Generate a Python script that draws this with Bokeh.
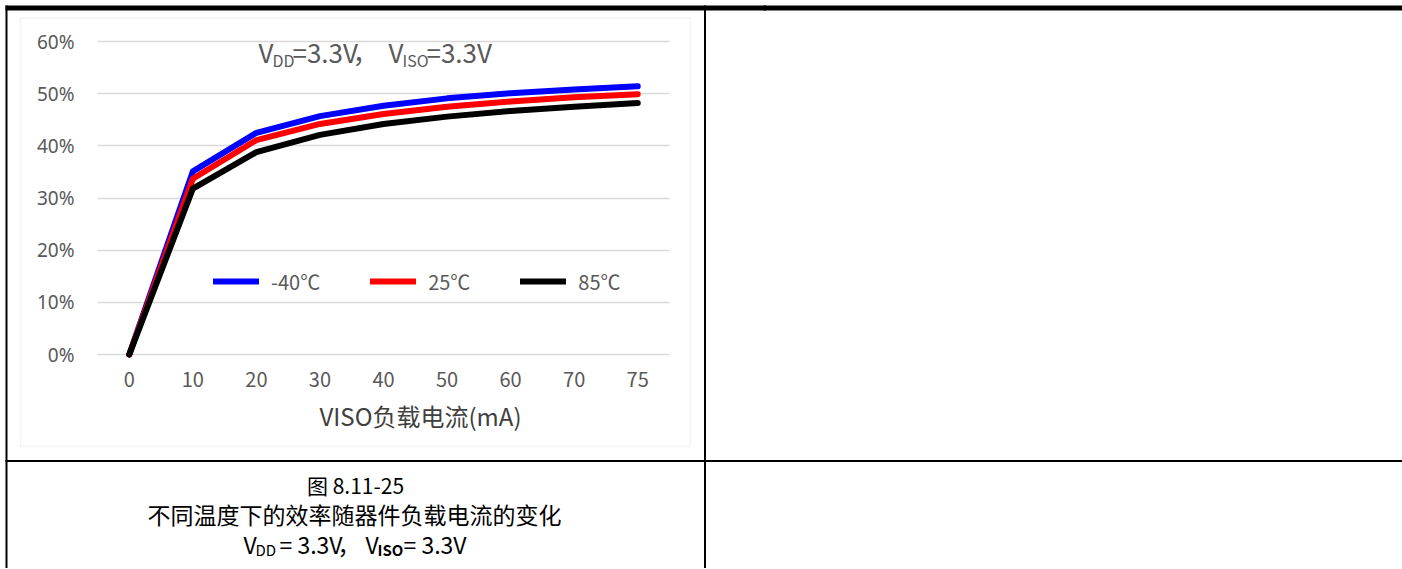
from bokeh.plotting import figure
from bokeh.layouts import row
from bokeh.models import (Range1d, FactorRange, Label, BoxAnnotation, Legend, LegendItem,
                          FixedTicker, NumeralTickFormatter, Grid)
from bokeh.embed import file_html
from bokeh.resources import INLINE

# ---------------- data ----------------
x_labels = ["0", "10", "20", "30", "40", "50", "60", "70", "75"]
eff_m40 = [0.0, 0.351, 0.425, 0.457, 0.477, 0.491, 0.501, 0.508, 0.514]
eff_25 = [0.0, 0.337, 0.411, 0.442, 0.461, 0.475, 0.485, 0.493, 0.499]
eff_85 = [0.0, 0.318, 0.388, 0.421, 0.442, 0.456, 0.467, 0.475, 0.482]
series_names = ["-40℃", "25℃", "85℃"]
series_colors = ["#0000ff", "#ff0000", "#000000"]
y_ticks = [0.0, 0.1, 0.2, 0.3, 0.4, 0.5, 0.6]

# ---------------- layout (page px) ----------------
TOTAL_W, H = 1402, 568
PL, PR = 97, 669            # plot-area left / right
Y0, Y60 = 354, 41           # page y of 0% and 60%
LW = PL + PR                # left figure width (plot area centred)
OVER = 3                    # overlap of the right figure onto the left one
RW = TOTAL_W - LW + OVER
n = len(x_labels)
cat_px = (PR - PL) / n
pad = PL / cat_px
ppu = (Y0 - Y60) / 0.6      # pixels per unit on y

p = figure(width=LW, height=H,
           x_range=FactorRange(*x_labels, range_padding=pad, range_padding_units="absolute"),
           y_range=Range1d(-(H - Y0) / ppu, 0.6 + Y60 / ppu),
           output_backend="svg", toolbar_location=None,
           min_border_left=0, min_border_right=0, min_border_top=0, min_border_bottom=0)
p.extra_y_ranges = {"py": Range1d(H, 0)}

p.outline_line_color = None
p.background_fill_color = "white"
p.border_fill_color = "white"
p.xgrid.visible = False
p.ygrid.grid_line_color = "#d9d9d9"
p.ygrid.grid_line_width = 1.5
if "cross_bounds" in Grid.properties():
    p.ygrid.cross_bounds = (0, n)
    use_grid = True
else:
    p.ygrid.visible = False
    use_grid = False

p.yaxis.ticker = FixedTicker(ticks=y_ticks)
p.yaxis.formatter = NumeralTickFormatter(format="0%")
p.yaxis.fixed_location = 0
p.xaxis.fixed_location = -3 / ppu
for ax in (p.xaxis, p.yaxis):
    ax.axis_line_color = None
    ax.major_tick_line_color = None
    ax.minor_tick_line_color = None
    ax.major_label_text_color = "#595959"
p.yaxis.major_label_text_font = "Noto Sans"
p.yaxis.major_label_text_font_size = "19px"
p.yaxis.major_label_standoff = 17
p.xaxis.major_label_text_font = "Noto Sans CJK SC"
p.xaxis.major_label_text_font_size = "20px"
p.xaxis.major_label_standoff = 8


def box(l, r, t, b, fill="black", line=None, lw=1):
    p.add_layout(BoxAnnotation(left=l, right=r, top=t, bottom=b,
                               left_units="screen", right_units="screen",
                               y_range_name="py",
                               fill_color=fill if fill else "white",
                               fill_alpha=1 if fill else 0,
                               line_color=line, line_width=lw, level="underlay"))


if not use_grid:
    for t in y_ticks:
        yp = Y0 - t * ppu
        box(PL, PR, yp - 0.75, yp + 0.75, fill="#d9d9d9")

renderers = []
for vals, col in zip([eff_m40, eff_25, eff_85], series_colors):
    r = p.line(x_labels, vals, line_color=col, line_width=6,
               line_cap="round", line_join="round")
    renderers.append(r)

legend = Legend(items=[LegendItem(label=nm, renderers=[r]) for nm, r in zip(series_names, renderers)],
                orientation="horizontal", location=(213, H - 296),
                glyph_width=46, glyph_height=30, label_height=30, label_standoff=12,
                spacing=50, padding=0, margin=0,
                background_fill_alpha=0, border_line_color=None,
                label_text_font="Noto Sans CJK SC", label_text_font_size="20px",
                label_text_color="#595959")
p.add_layout(legend)


def lab(x, y, text, size, color="#000000", font="Noto Sans CJK SC", align="left",
        baseline="middle", style="normal"):
    p.add_layout(Label(x=x, y=y, x_units="screen", y_range_name="py", text=text,
                       text_font=font, text_font_size=f"{size}px", text_color=color,
                       text_align=align, text_baseline=baseline, text_font_style=style))


# table borders
box(5, None, 5, 10)
box(5, 7, 5, H + 2)
box(703.5, 705.5, 5, H + 2)
box(5, None, 459.5, 461.5)
# chart area frame
box(20, 690, 17.5, 446, fill=None, line="#d9d9d9", lw=1.5)

# chart title with subscripts
tc = "#595959"
lab(258, 51, "V", 26, tc)
lab(272, 59, "DD", 16, tc)
lab(292, 51, "=3.3V", 26, tc)
lab(352, 51, "，", 26, tc)
lab(388, 51, "V", 26, tc)
lab(402, 59, "ISO", 16, tc)
lab(426, 51, "=3.3V", 26, tc)

# x axis title
lab(420, 415, "VISO负载电流(mA)", 24, "#404040", align="center")

# caption
lab(355, 484, "图 8.11-25", 21, align="center")
lab(354, 513, "不同温度下的效率随器件负载电流的变化", 23, align="center")
lab(243, 543, "V", 23)
lab(255, 549, "DD", 15)
lab(279, 543, "= 3.3V", 23)
lab(337, 543, "，", 23)
lab(365, 543, "V", 23)
lab(377, 549, "ISO", 15, style="bold")
lab(403, 543, "= 3.3V", 23)

# right cell (empty) – continuation of the table rules
q = figure(width=RW, height=H, x_range=Range1d(LW - OVER, TOTAL_W), y_range=Range1d(H, 0),
           output_backend="svg", toolbar_location=None,
           x_axis_location=None, y_axis_location=None,
           min_border_left=0, min_border_right=0, min_border_top=0, min_border_bottom=0)
q.outline_line_color = None
q.grid.visible = False
q.background_fill_alpha = 0
q.border_fill_alpha = 0
q.styles = {"margin-left": f"-{OVER}px"}
for (t, b) in [(5, 10), (459.5, 461.5)]:
    q.add_layout(BoxAnnotation(left=None, right=None, top=t, bottom=b,
                               fill_color="black", fill_alpha=1, line_color=None))

layout = row(p, q, spacing=0)
open("out.html", "w").write(file_html(layout, INLINE))
